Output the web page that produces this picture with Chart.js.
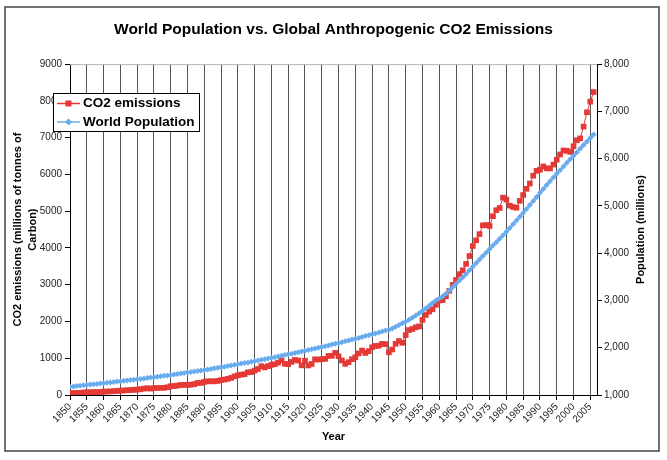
<!DOCTYPE html>
<html>
<head>
<meta charset="utf-8">
<script src="https://cdn.jsdelivr.net/npm/chart.js"></script>
<style>
  body { margin: 0; background: #fff; }
</style>
</head>
<body>
<canvas id="grafico" width="667" height="460"></canvas>
<script>
// years 1850 .. 2006
var firstYear = 1850;
var lastYear = 2006;

// global CO2 emissions, millions of tonnes of carbon
var co2 = [
  54, 54, 57, 59, 69, 71, 76, 77, 78, 83,
  91, 95, 97, 104, 112, 119, 122, 130, 135, 142,
  147, 156, 173, 184, 174, 188, 191, 194, 196, 210,
  236, 243, 256, 272, 275, 277, 281, 295, 327, 327,
  356, 372, 374, 370, 383, 406, 419, 440, 465, 507,
  534, 552, 566, 617, 624, 663, 707, 784, 750, 785,
  819, 836, 879, 943, 850, 838, 901, 955, 936, 806,
  932, 803, 845, 970, 963, 975, 983, 1062, 1065, 1145,
  1053, 940, 847, 893, 973, 1027, 1130, 1209, 1142, 1192,
  1299, 1334, 1342, 1391, 1383, 1160, 1238, 1392, 1469, 1419,
  1630, 1767, 1795, 1841, 1865, 2042, 2177, 2270, 2330, 2454,
  2569, 2580, 2686, 2833, 2995, 3130, 3288, 3393, 3566, 3780,
  4053, 4208, 4376, 4614, 4623, 4596, 4864, 5026, 5087, 5369,
  5315, 5152, 5113, 5094, 5280, 5439, 5607, 5752, 5965, 6097,
  6127, 6217, 6164, 6162, 6266, 6398, 6542, 6651, 6643, 6610,
  6765, 6927, 6980, 7300, 7690, 7980, 8240
];

// world population, millions
var population = [
  1175, 1182, 1190, 1197, 1205, 1212, 1220, 1228, 1235, 1243,
  1251, 1259, 1267, 1275, 1283, 1291, 1299, 1307, 1316, 1324,
  1333, 1341, 1350, 1359, 1368, 1377, 1386, 1395, 1405, 1414,
  1424, 1434, 1444, 1454, 1464, 1474, 1485, 1495, 1506, 1517,
  1528, 1540, 1552, 1564, 1576, 1588, 1600, 1613, 1626, 1638,
  1651, 1664, 1677, 1690, 1703, 1716, 1730, 1744, 1758, 1772,
  1786, 1800, 1815, 1830, 1845, 1860, 1875, 1890, 1905, 1920,
  1935, 1951, 1967, 1983, 1999, 2015, 2032, 2049, 2066, 2083,
  2100, 2118, 2136, 2154, 2172, 2190, 2208, 2227, 2246, 2265,
  2284, 2303, 2322, 2342, 2362, 2382, 2408, 2444, 2482, 2519,
  2557, 2594, 2636, 2681, 2729, 2780, 2833, 2889, 2945, 2997,
  3043, 3084, 3141, 3210, 3281, 3350, 3421, 3490, 3562, 3637,
  3713, 3790, 3867, 3942, 4017, 4089, 4160, 4230, 4304, 4379,
  4455, 4531, 4611, 4690, 4770, 4851, 4933, 5018, 5105, 5190,
  5278, 5359, 5440, 5520, 5600, 5679, 5757, 5834, 5911, 5987,
  6062, 6137, 6212, 6286, 6361, 6436, 6512
];

var years = [];
for (let y = firstYear; y <= lastYear; y++) years.push(y);

var red = 'rgb(229,57,53)';
var blue = 'rgb(104,172,238)';
var fonte = '"Liberation Sans", Arial, sans-serif';

function pontos(valores) {
  return years.map((ano, i) => ({ x: ano, y: valores[i] }));
}

// white page, plot top edge, outer frame, right title and the legend box
var moldura = {
  id: 'moldura',
  beforeDraw(chart) {
    var c = chart.ctx;
    c.save();
    c.fillStyle = '#fff';
    c.fillRect(0, 0, chart.width, chart.height);
    c.restore();
  },
  afterDraw(chart) {
    var c = chart.ctx, a = chart.chartArea;
    c.save();
    c.strokeStyle = '#b4b4b4';
    c.lineWidth = 1;
    c.beginPath();
    c.moveTo(a.left, a.top + 0.5);
    c.lineTo(a.right, a.top + 0.5);
    c.stroke();

    c.strokeStyle = '#444';
    c.lineWidth = 1.5;
    c.strokeRect(5, 7, 654, 444);

    c.save();
    c.translate(641, (a.top + a.bottom) / 2);
    c.rotate(-Math.PI / 2);
    c.font = 'bold 11px ' + fonte;
    c.fillStyle = '#000';
    c.textAlign = 'center';
    c.textBaseline = 'middle';
    c.fillText('Population (millions)', 0, 0);
    c.restore();

    // legend
    c.fillStyle = '#fff';
    c.fillRect(53, 93, 146, 38);
    c.strokeStyle = '#000';
    c.lineWidth = 1;
    c.strokeRect(53.5, 93.5, 146, 38);
    chart.data.datasets.forEach(function (ds, i) {
      var y = 103.5 + i * 18.5;
      c.strokeStyle = ds.borderColor;
      c.lineWidth = 1.5;
      c.beginPath();
      c.moveTo(57, y);
      c.lineTo(80, y);
      c.stroke();
      c.fillStyle = ds.pointBackgroundColor;
      c.beginPath();
      if (ds.pointStyle === 'rect') {
        c.rect(65.5, y - 3, 6, 6);
      } else {
        c.moveTo(68.5, y - 3.5);
        c.lineTo(72, y);
        c.lineTo(68.5, y + 3.5);
        c.lineTo(65, y);
        c.closePath();
      }
      c.fill();
      c.fillStyle = '#000';
      c.font = 'bold 13.5px ' + fonte;
      c.textAlign = 'left';
      c.textBaseline = 'middle';
      c.fillText(ds.label, 83, y);
    });
    c.restore();
  }
};

var ctx = document.getElementById('grafico').getContext('2d');
var chart = new Chart(ctx, {
  type: 'line',
  data: {
    datasets: [{
      label: 'CO2 emissions',
      data: pontos(co2),
      yAxisID: 'y',
      order: 1,
      borderColor: red,
      backgroundColor: red,
      pointBackgroundColor: red,
      pointBorderWidth: 0,
      pointStyle: 'rect',
      pointRadius: 4,
      borderWidth: 1
    }, {
      label: 'World Population',
      data: pontos(population),
      yAxisID: 'yPop',
      order: 0,
      borderColor: blue,
      backgroundColor: blue,
      pointBackgroundColor: blue,
      pointBorderWidth: 0,
      pointStyle: 'rectRot',
      pointRadius: 3,
      borderWidth: 2
    }]
  },
  plugins: [moldura],
  options: {
    responsive: false,
    animation: false,
    devicePixelRatio: 1,
    layout: { padding: 0 },
    plugins: {
      legend: { display: false },
      tooltip: { enabled: false },
      title: {
        display: true,
        text: 'World Population vs. Global Anthropogenic CO2 Emissions',
        color: '#000',
        font: { family: fonte, size: 15.5, weight: 'bold' },
        padding: { top: 20.5, bottom: 25 }
      }
    },
    scales: {
      x: {
        type: 'linear',
        min: 1850,
        max: 2007,
        afterFit: function (s) { s.height = 65; },
        ticks: {
          stepSize: 5,
          includeBounds: false,
          autoSkip: false,
          maxRotation: 45,
          minRotation: 45,
          padding: 1,
          color: '#222',
          font: { family: fonte, size: 10 },
          callback: function (v) { return String(v); }
        },
        grid: { color: '#555', lineWidth: 1, tickLength: 5, tickColor: '#000' },
        border: { color: '#000' },
        title: {
          display: true,
          text: 'Year',
          color: '#000',
          font: { family: fonte, size: 11, weight: 'bold' },
          padding: { top: 0, bottom: 16 }
        }
      },
      y: {
        position: 'left',
        min: 0,
        max: 9000,
        afterFit: function (s) { s.width = 70; },
        ticks: {
          stepSize: 1000,
          padding: 3,
          color: '#222',
          font: { family: fonte, size: 10 },
          callback: function (v) { return String(v); }
        },
        grid: { drawOnChartArea: false, tickLength: 5, color: '#000' },
        border: { color: '#000' },
        title: {
          display: true,
          text: ['CO2 emissions (millions of tonnes of', 'Carbon)'],
          color: '#000',
          font: { family: fonte, size: 11, weight: 'bold', lineHeight: 1.4 },
          padding: { top: 10, bottom: 0 }
        }
      },
      yPop: {
        position: 'right',
        min: 1000,
        max: 8000,
        afterFit: function (s) { s.width = 70; },
        ticks: {
          stepSize: 1000,
          padding: 2,
          color: '#222',
          font: { family: fonte, size: 10 },
          callback: function (v) { return v.toLocaleString('en-US'); }
        },
        grid: { drawOnChartArea: false, tickLength: 5, color: '#000' },
        border: { color: '#000' }
      }
    }
  }
});
</script>
</body>
</html>
